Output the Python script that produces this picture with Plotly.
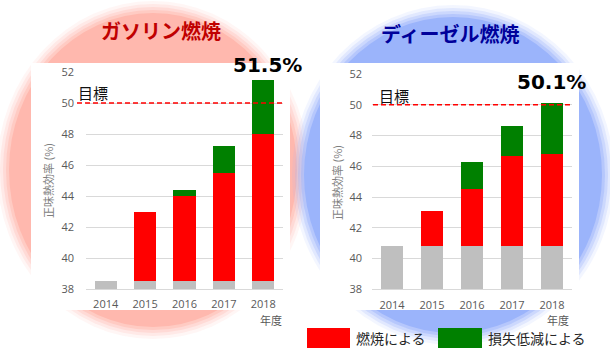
import plotly.graph_objects as go

W, H = 610, 358

# ---------------- data ----------------
years = ["2014", "2015", "2016", "2017", "2018"]
TARGET = 50

gas_base = [38.5, 38.5, 38.5, 38.5, 38.5]
gas_combustion = [0.0, 4.5, 5.5, 7.0, 9.5]
gas_loss = [0.0, 0.0, 0.4, 1.7, 3.5]

dsl_base = [40.8, 40.8, 40.8, 40.8, 40.8]
dsl_combustion = [0.0, 2.3, 3.7, 5.9, 6.0]
dsl_loss = [0.0, 0.0, 1.8, 1.9, 3.3]

y_ticks = [38, 40, 42, 44, 46, 48, 50, 52]

title_gas = "ガソリン燃焼"
title_dsl = "ディーゼル燃焼"
ytitle = "正味熱効率 (%)"
xtitle = "年度"
target_label = "目標"
legend_comb = "燃焼による"
legend_loss = "損失低減による"

GRAY = "#BFBFBF"
RED = "#FF0000"
GREEN = "#008000"
PINK = "#FFB8AE"
BLUE = "#9BB4FB"

JP = "Noto Sans CJK JP"


def px(x):
    return x / W


def py(y):
    return 1 - y / H


fig = go.Figure()

for xa, ya, base, comb, loss in [("x", "y", gas_base, gas_combustion, gas_loss),
                                 ("x2", "y2", dsl_base, dsl_combustion, dsl_loss)]:
    fig.add_trace(go.Bar(x=years, y=base, marker=dict(color=GRAY, line=dict(width=0)),
                         xaxis=xa, yaxis=ya, showlegend=False))
    fig.add_trace(go.Bar(x=years, y=comb, marker=dict(color=RED, line=dict(width=0)),
                         xaxis=xa, yaxis=ya, showlegend=False))
    fig.add_trace(go.Bar(x=years, y=loss, marker=dict(color=GREEN, line=dict(width=0)),
                         xaxis=xa, yaxis=ya, showlegend=False))

shapes = []


def soft_ellipse(cx, cy, rx, ry, color):
    for off, op in [(9, 0.12), (6, 0.2), (3, 0.3), (0, 0.45), (-3, 1.0)]:
        shapes.append(dict(type="circle", xref="paper", yref="paper",
                           x0=px(cx - rx - off), x1=px(cx + rx + off),
                           y0=py(cy + ry + off), y1=py(cy - ry - off),
                           fillcolor=color, opacity=op, line=dict(width=0), layer="below"))


soft_ellipse(153, 170, 147, 160, PINK)
soft_ellipse(453, 175, 152, 161, BLUE)

# white panels
for x0, x1 in [(31, 290), (320, 579)]:
    shapes.append(dict(type="rect", xref="paper", yref="paper",
                       x0=px(x0), x1=px(x1), y0=py(310), y1=py(63),
                       fillcolor="white", line=dict(width=0), layer="below"))

# target lines
shapes.append(dict(type="line", xref="paper", yref="y", x0=px(77), x1=px(283),
                   y0=TARGET, y1=TARGET, line=dict(color="#FF0000", width=1.5, dash="5px,3px")))
shapes.append(dict(type="line", xref="paper", yref="y2", x0=px(373), x1=px(572),
                   y0=TARGET, y1=TARGET, line=dict(color="#FF0000", width=1.5, dash="5px,3px")))

# legend boxes
shapes.append(dict(type="rect", xref="paper", yref="paper", x0=px(307), x1=px(350),
                   y0=py(348), y1=py(328), fillcolor=RED, line=dict(width=0)))
shapes.append(dict(type="rect", xref="paper", yref="paper", x0=px(438), x1=px(482),
                   y0=py(348), y1=py(328), fillcolor=GREEN, line=dict(width=0)))

ann = []


def label(text, x, y, size, color, xanchor="center", family=JP, angle=0):
    ann.append(dict(text=text, x=px(x), y=py(y), xref="paper", yref="paper",
                    xanchor=xanchor, yanchor="middle", textangle=angle, showarrow=False,
                    font=dict(family=family, size=size, color=color)))


# titles
label("<b>" + title_gas + "</b>", 161, 31, 20, "#C00000")
label("<b>" + title_dsl + "</b>", 450, 33, 20, "#00009A")
# target labels
label(target_label, 76, 93, 15, "#111111", xanchor="left")
label(target_label, 377, 95, 15, "#111111", xanchor="left")
# y-axis titles
label(ytitle, 48, 181, 11, "#7F7F7F", angle=-90)
label(ytitle, 337, 183, 11, "#7F7F7F", angle=-90)
# x-axis titles
label(xtitle, 284, 320, 11, "#595959", xanchor="right")
label(xtitle, 571, 320, 11, "#595959", xanchor="right")
# legend text
label(legend_comb, 354, 338, 14, "#262626", xanchor="left")
label(legend_loss, 486, 338, 14, "#262626", xanchor="left")

# totals (placed at the last category index)
last = len(years) - 1
gas_total = gas_base[-1] + gas_combustion[-1] + gas_loss[-1]
dsl_total = dsl_base[-1] + dsl_combustion[-1] + dsl_loss[-1]
ann.append(dict(text="<b>%.1f%%</b>" % gas_total, x=last, y=gas_total, xref="x", yref="y",
                xanchor="center", yanchor="bottom", xshift=4, yshift=1, showarrow=False,
                font=dict(family="DejaVu Sans", size=20, color="#000000")))
ann.append(dict(text="<b>%.1f%%</b>" % dsl_total, x=last, y=dsl_total, xref="x2", yref="y2",
                xanchor="center", yanchor="bottom", xshift=-1, yshift=7, showarrow=False,
                font=dict(family="DejaVu Sans", size=20, color="#000000")))

tickfont = dict(family="Open Sans", size=11, color="#595959")

yax_common = dict(range=[38, 52], tickvals=y_ticks, showgrid=True, gridcolor="#D9D9D9",
                  gridwidth=1, zeroline=False, showline=False, ticks="", tickfont=tickfont,
                  automargin=False)
xax_common = dict(type="category", range=[-0.5, len(years) - 0.5], showgrid=False,
                  showline=True, linecolor="#D9D9D9", ticks="", tickfont=tickfont,
                  ticklabelstandoff=5, automargin=False)

fig.update_layout(
    width=W, height=H,
    margin=dict(l=0, r=0, t=0, b=0),
    paper_bgcolor="white",
    plot_bgcolor="rgba(0,0,0,0)",
    barmode="stack",
    bargap=0.44,
    showlegend=False,
    xaxis=dict(domain=[px(86), px(283)], anchor="y", **xax_common),
    yaxis=dict(domain=[py(289), py(72)], anchor="x", ticklabelstandoff=11, **yax_common),
    xaxis2=dict(domain=[px(372), px(572)], anchor="y2", **xax_common),
    yaxis2=dict(domain=[py(289.3), py(74)], anchor="x2", ticklabelstandoff=9, **yax_common),
    shapes=shapes,
    annotations=ann,
)

fig.write_html("out.html", config={"displayModeBar": False},
               post_script="document.body.style.margin='0';document.body.style.overflow='hidden';")
